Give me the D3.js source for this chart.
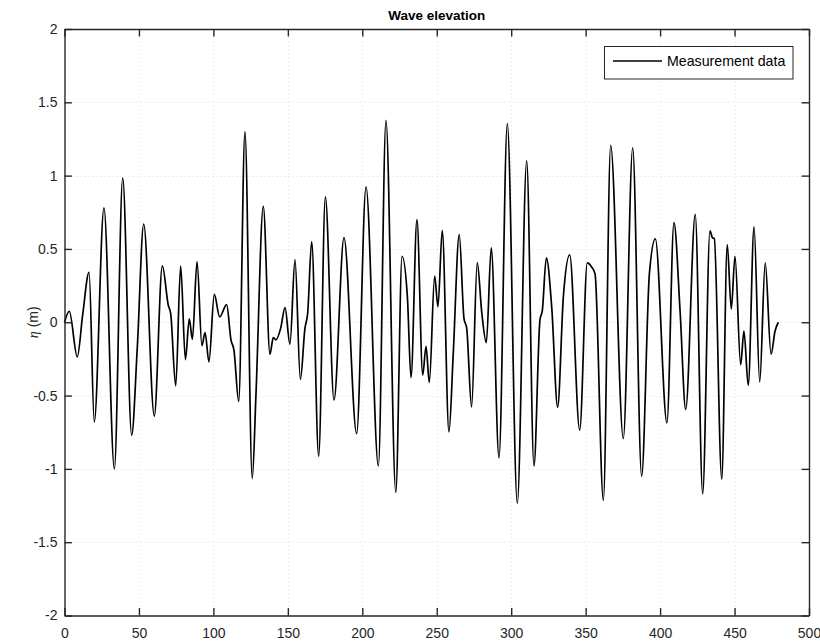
<!DOCTYPE html>
<html>
<head>
<meta charset="utf-8">
<script src="https://cdn.jsdelivr.net/npm/d3@7"></script>
<style>
  html, body { margin: 0; padding: 0; background: #fff; }
  svg { display: block; font-family: "Liberation Sans", Arial, Helvetica, sans-serif; }
</style>
</head>
<body>
<svg id="chart" width="820" height="642"></svg>
<script>
// Time instants (s) of the turning points of the recorded surface elevation
const times = [
  0, 3.2, 8.6, 12.2, 16.5, 20, 26.5, 33.5, 39.1, 45.1, 48.9, 53.2,
  60.3, 65.7, 69.7, 71.3, 74.7, 78.0, 81.2, 83.8, 85.9, 89.0, 92.3, 94.4,
  97.0, 100.6, 104.2, 108.9, 111.8, 113.8, 117, 121.2, 126.1, 128.6, 133.5,
  138, 140.2, 142, 145.2, 148.1, 151.4, 154.8, 158.4, 161.5, 163.3, 166,
  170.7, 175.2, 181, 187.7, 196.2, 202.5, 210.8, 215.9, 222.5, 226.7, 230.3,
  232.7, 236.7, 240.6, 242.8, 245, 248.6, 250.8, 253.7, 258.2, 261.1, 265.1,
  268.3, 270.1, 273.4, 277.2, 280.2, 283.3, 286.6, 291.8, 297.4, 304.1, 310.4,
  315.3, 319.3, 320.9, 323.6, 327.2, 331.2, 335, 339.3, 346, 351.1, 354, 356.3,
  361.9, 366.8, 375.3, 381.6, 387.6, 392.8, 396.8, 404.6, 409.3, 413.4, 417.2,
  423.6, 428.6, 433.5, 435.1, 436.4, 441.4, 445.1, 447.8, 450.3, 454.1, 456.3,
  459.2, 463.1, 466.9, 470.6, 474.5, 477.2, 479.4
];

// Surface elevation eta (m) at those instants
const elevation = [
  0, 0.075, -0.236, 0.05, 0.34, -0.68, 0.78, -1.0, 0.984, -0.77, -0.17, 0.67,
  -0.64, 0.384, 0.116, 0.06, -0.434, 0.384, -0.255, 0.023, -0.116, 0.414, -0.16, -0.07,
  -0.27, 0.19, 0.036, 0.12, -0.12, -0.19, -0.54, 1.30, -1.066, -0.49, 0.79,
  -0.218, -0.105, -0.12, -0.04, 0.10, -0.15, 0.427, -0.39, -0.04, 0.06, 0.55,
  -0.914, 0.855, -0.53, 0.577, -0.76, 0.923, -0.98, 1.377, -1.16, 0.45, 0.17,
  -0.377, 0.70, -0.36, -0.164, -0.41, 0.314, 0.105, 0.627, -0.748, -0.21, 0.598,
  0.025, -0.04, -0.577, 0.407, 0.07, -0.139, 0.507, -0.925, 1.355, -1.235, 1.10,
  -0.98, 0.014, 0.08, 0.44, 0.105, -0.58, 0.17, 0.46, -0.736, 0.405, 0.377, 0.33,
  -1.215, 1.207, -0.793, 1.19, -1.05, 0.33, 0.568, -0.686, 0.68, 0.08, -0.595,
  0.736, -1.17, 0.623, 0.577, 0.57, -1.07, 0.53, 0.09, 0.45, -0.29, -0.06,
  -0.43, 0.65, -0.407, 0.405, -0.218, -0.06, 0.0
];

const xTicks = [0, 50, 100, 150, 200, 250, 300, 350, 400, 450, 500];
const yTicks = [-2, -1.5, -1, -0.5, 0, 0.5, 1, 1.5, 2];
const xTickLabels = ["0", "50", "100", "150", "200", "250", "300", "350", "400", "450", "500"];
const yTickLabels = ["-2", "-1.5", "-1", "-0.5", "0", "0.5", "1", "1.5", "2"];

const titleText = "Wave elevation";
const seriesName = "Measurement data";

const box = { left: 64.5, right: 809, top: 29, bottom: 615.5 };
const axisColor = "#262626";
const tickLen = 7.4;

const svg = d3.select("#chart");

const x = d3.scaleLinear().domain([0, 500]).range([box.left, box.right]);
const y = d3.scaleLinear().domain([-2, 2]).range([box.bottom, box.top]);

// grid
const grid = svg.append("g").attr("class", "grid")
  .attr("stroke", axisColor).attr("stroke-opacity", 0.15)
  .attr("stroke-width", 1).attr("stroke-dasharray", "1,3");
grid.selectAll("line.v").data(xTicks.slice(1, -1)).join("line")
  .attr("class", "v")
  .attr("x1", d => Math.round(x(d)) + 0.5).attr("x2", d => Math.round(x(d)) + 0.5)
  .attr("y1", box.top).attr("y2", box.bottom);
grid.selectAll("line.h").data(yTicks.slice(1, -1)).join("line")
  .attr("class", "h")
  .attr("y1", d => Math.round(y(d)) + 0.5).attr("y2", d => Math.round(y(d)) + 0.5)
  .attr("x1", box.left).attr("x2", box.right);

// data line
const pts = d3.zip(times, elevation);
const line = d3.line()
  .x(d => x(d[0]))
  .y(d => y(d[1]))
  .curve(d3.curveMonotoneX);
svg.append("path")
  .datum(pts)
  .attr("fill", "none")
  .attr("stroke", "#000")
  .attr("stroke-width", 1.7)
  .attr("stroke-linejoin", "round")
  .attr("d", line);

// axes (inward ticks on all four sides, MATLAB-style box)
const fontSize = 14;
const gBottom = svg.append("g").attr("transform", `translate(0,${box.bottom})`)
  .call(d3.axisBottom(x).tickValues(xTicks).tickSizeInner(-tickLen).tickSizeOuter(0)
    .tickPadding(13).tickFormat((d, i) => xTickLabels[i]));
const gTop = svg.append("g").attr("transform", `translate(0,${box.top})`)
  .call(d3.axisTop(x).tickValues(xTicks).tickSizeInner(-tickLen).tickSizeOuter(0)
    .tickFormat(""));
const gLeft = svg.append("g").attr("transform", `translate(${box.left},0)`)
  .call(d3.axisLeft(y).tickValues(yTicks).tickSizeInner(-tickLen).tickSizeOuter(0)
    .tickPadding(7).tickFormat((d, i) => yTickLabels[i]));
const gRight = svg.append("g").attr("transform", `translate(${box.right},0)`)
  .call(d3.axisRight(y).tickValues(yTicks).tickSizeInner(-tickLen).tickSizeOuter(0)
    .tickFormat(""));

[gBottom, gTop, gLeft, gRight].forEach(g => {
  g.select(".domain").attr("stroke", axisColor).attr("stroke-width", 1.4);
  g.selectAll(".tick line").attr("stroke", axisColor).attr("stroke-width", 1.4);
  g.selectAll(".tick text")
    .attr("fill", axisColor)
    .style("font-size", fontSize + "px")
    .style("font-family", '"Liberation Sans", Arial, sans-serif');
});

// title
svg.append("text")
  .attr("x", (box.left + box.right) / 2)
  .attr("y", 20)
  .attr("text-anchor", "middle")
  .attr("fill", "#000")
  .style("font-size", "13.5px")
  .style("font-weight", "bold")
  .text(titleText);

// y label
const yl = svg.append("text")
  .attr("transform", `translate(38,${y(0)}) rotate(-90)`)
  .attr("text-anchor", "middle")
  .attr("fill", axisColor)
  .style("font-size", "14px");
yl.append("tspan").style("font-style", "italic").style("font-family", '"Liberation Serif", "Times New Roman", serif').text("η");
yl.append("tspan").text(" (m)");

// legend
const lg = svg.append("g");
lg.append("rect")
  .attr("x", 604.5).attr("y", 46.5).attr("width", 188.5).attr("height", 32.5)
  .attr("fill", "#fff").attr("stroke", axisColor).attr("stroke-width", 1);
lg.append("line")
  .attr("x1", 613).attr("x2", 662).attr("y1", 61).attr("y2", 61)
  .attr("stroke", "#000").attr("stroke-width", 1.7);
lg.append("text")
  .attr("x", 667).attr("y", 66)
  .attr("fill", "#000")
  .style("font-size", "14.2px")
  .text(seriesName);
</script>
</body>
</html>
